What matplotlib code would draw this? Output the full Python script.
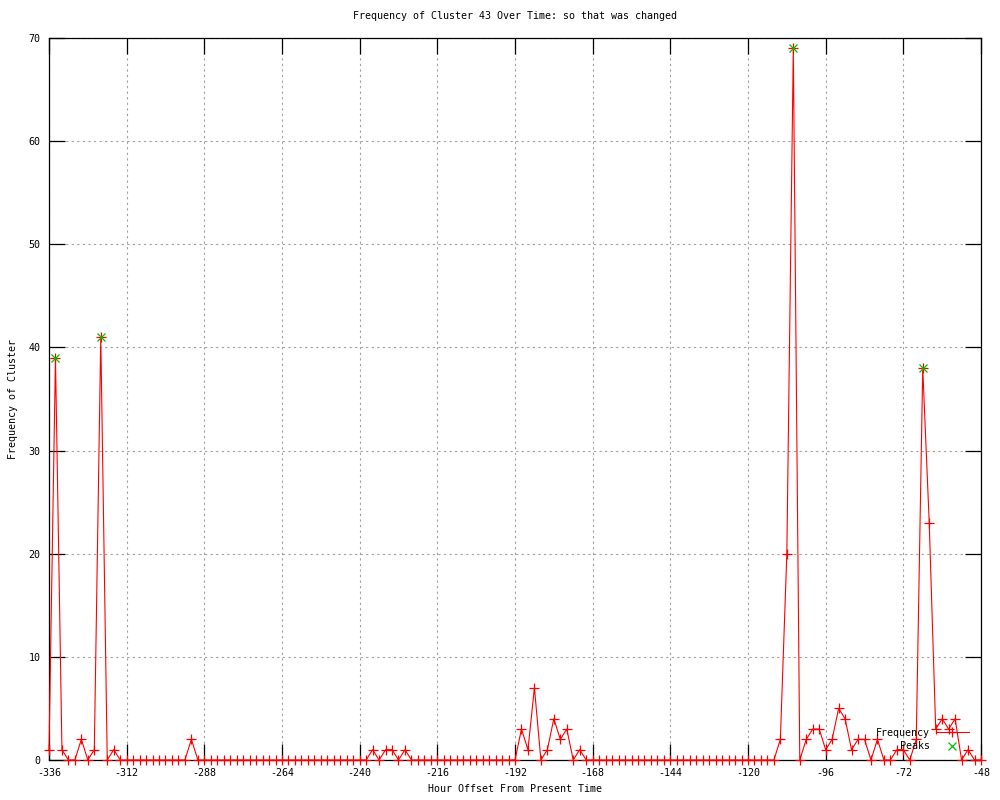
import matplotlib
matplotlib.use("Agg")
import matplotlib.pyplot as plt
import numpy as np

# Hour offsets (every 2 hours from -336 to -48)
hours = list(range(-336, -47, 2))

# Frequency values by hour offset (non-zero entries; all others are 0)
nonzero = {
    -336: 1, -334: 39, -332: 1, -326: 2, -322: 1, -320: 41, -316: 1,
    -292: 2,
    -236: 1, -232: 1, -230: 1, -226: 1,
    -190: 3, -188: 1, -186: 7, -182: 1, -180: 4, -178: 2, -176: 3, -172: 1,
    -110: 2, -108: 20, -106: 69, -102: 2, -100: 3, -98: 3, -96: 1, -94: 2,
    -92: 5, -90: 4, -88: 1, -86: 2, -84: 2, -80: 2, -74: 1, -72: 1,
    -68: 2, -66: 38, -64: 23, -62: 3, -60: 4, -58: 3, -56: 4, -52: 1,
}
frequency = [nonzero.get(h, 0) for h in hours]

peak_hours = [-334, -320, -106, -66]
peak_values = [39, 41, 69, 38]

x_ticks = list(range(-336, -47, 24))
y_ticks = list(range(0, 71, 10))

title = "Frequency of Cluster 43 Over Time: so that was changed"
xlabel = "Hour Offset From Present Time"
ylabel = "Frequency of Cluster"

FONT = "DejaVu Sans Mono"
FS = 7.2
plt.rcParams['font.family'] = [FONT]
plt.rcParams['font.size'] = FS

fig = plt.figure(figsize=(10, 8), dpi=100)
ax = fig.add_axes([0.049, 0.05, 0.932, 0.9025])

red = "#ff0000"
green = "#00c000"

ax.plot(hours, frequency, color=red, lw=0.8, marker="+", markersize=7,
        markeredgewidth=0.9, label="Frequency", clip_on=False, zorder=3)
ax.plot(peak_hours, peak_values, linestyle="none", color=green, marker="x",
        markersize=5.5, markeredgewidth=0.9, label="Peaks", zorder=4)

ax.set_xlim(-336, -48)
ax.set_ylim(0, 70)
ax.set_xticks(x_ticks)
ax.set_yticks(y_ticks)
ax.set_xticklabels([str(v) for v in x_ticks])
ax.set_yticklabels([str(v) for v in y_ticks])

ax.tick_params(direction="in", length=11.5, width=0.9, top=True, right=True,
               labelsize=FS, pad=6, colors="black")
ax.grid(True, color="#a0a0a0", linestyle=(0, (2, 3)), linewidth=0.8)
ax.set_axisbelow(True)
for s in ax.spines.values():
    s.set_linewidth(0.9)

ax.set_title(title, fontsize=FS, pad=14)
ax.set_xlabel(xlabel, fontsize=FS, labelpad=4)
ax.set_ylabel(ylabel, fontsize=FS, labelpad=8)

leg = ax.legend(loc="center right", bbox_to_anchor=(0.987, 0.0284),
                frameon=False, markerfirst=False, fontsize=FS,
                handlelength=3.3, handletextpad=0.6, labelspacing=0.35,
                borderpad=0, borderaxespad=0)

fig.savefig("out.png", dpi=100)
